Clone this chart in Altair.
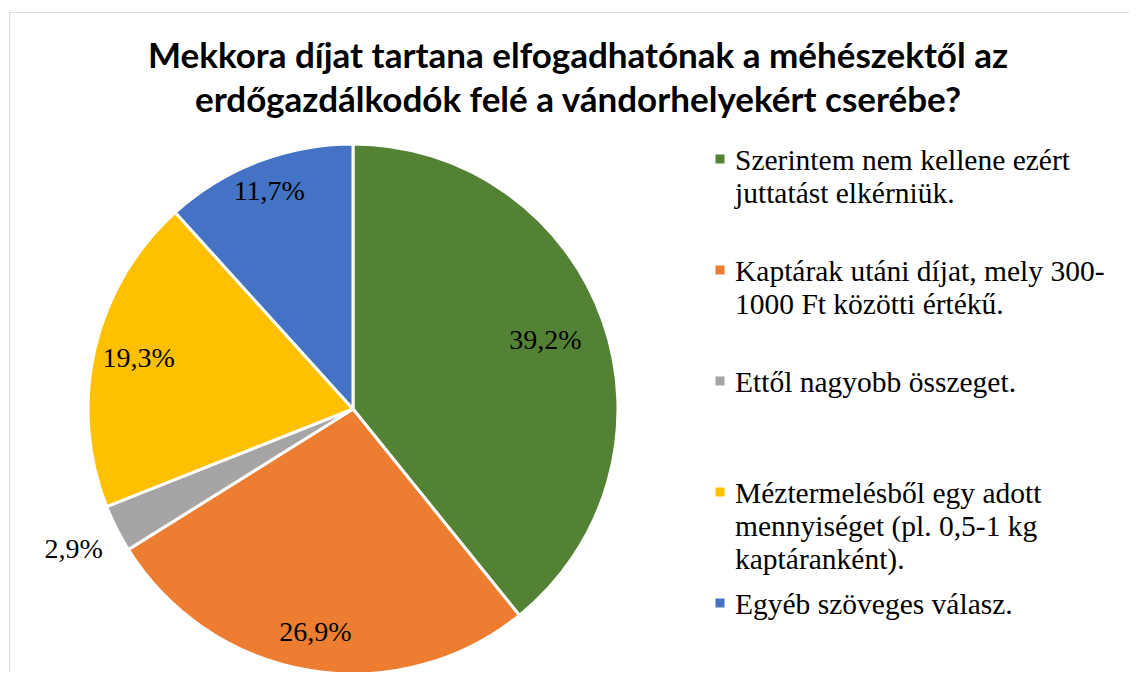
import altair as alt
import pandas as pd

title_lines = ["Mekkora díjat tartana elfogadhatónak a méhészektől az",
               "erdőgazdálkodók felé a vándorhelyekért cserébe?"]

categories = [
    "Szerintem nem kellene ezért\njuttatást elkérniük.",
    "Kaptárak utáni díjat, mely 300-\n1000 Ft közötti értékű.",
    "Ettől nagyobb összeget.",
    "Méztermelésből egy adott\nmennyiséget (pl. 0,5-1 kg\nkaptáranként).",
    "Egyéb szöveges válasz.",
]
values = [39.2, 26.9, 2.9, 19.3, 11.7]
labels = ["39,2%", "26,9%", "2,9%", "19,3%", "11,7%"]
colors = ["#548235", "#ED7D31", "#A5A5A5", "#FFC000", "#4472C4"]

df = pd.DataFrame({
    "idx": list(range(len(categories))),
    "cat": categories,
    "value": values,
    "label": labels,
})

cx, cy, R = 345, 401, 265
color = alt.Color("cat:N", scale=alt.Scale(domain=categories, range=colors), legend=None)
theta_scale = alt.Scale(domain=[0, 100])

base = alt.Chart(df)

pie = base.mark_arc(outerRadius=R, stroke="white", strokeWidth=3).encode(
    theta=alt.Theta("value:Q", stack=True, scale=theta_scale),
    color=color,
    order=alt.Order("idx:Q"),
    x=alt.value(cx), y=alt.value(cy),
)

# label at the middle of each slice; Excel "best fit" radius: small slice outside
pie_labels = base.transform_window(
    cum="sum(value)", sort=[alt.SortField("idx", order="ascending")]
).transform_calculate(
    mid="datum.cum - datum.value / 2",
    r="datum.value < 5 ? 313 : datum.value < 15 ? 233 : datum.value < 22 ? 220 : datum.value < 30 ? 227 : 204",
).mark_text(font="Liberation Serif", fontSize=28, color="black",
            align="center", baseline="middle").encode(
    theta=alt.Theta("mid:Q", stack=None, scale=theta_scale),
    radius=alt.Radius("r:Q", scale=None),
    text="label:N",
    x=alt.value(cx), y=alt.value(cy),
)

ly = alt.Y("idx:Q", scale=alt.Scale(domain=[0, 4], range=[151, 595]), axis=None)

leg_sq = base.mark_square(size=81, opacity=1).encode(
    x=alt.value(712), y=ly, color=color,
)
leg_txt = base.mark_text(font="Liberation Serif", fontSize=29.5, color="black",
                         align="left", baseline="alphabetic", dy=11,
                         lineBreak="\n", lineHeight=33).encode(
    x=alt.value(727), y=ly, text="cat:N",
)

title_df = pd.DataFrame({"t": ["\n".join(title_lines)]})
title = alt.Chart(title_df).mark_text(font="Lato", fontWeight="bold", fontSize=35,
                                      color="black", align="center", baseline="alphabetic",
                                      lineBreak="\n", lineHeight=44).encode(
    x=alt.value(570), y=alt.value(60), text="t:N",
)

border = alt.Chart(title_df).mark_rect(fillOpacity=0, stroke="#D9D9D9", strokeWidth=1).encode(
    x=alt.value(1.5), x2=alt.value(1400), y=alt.value(4.5), y2=alt.value(1000),
)

chart = alt.layer(border, pie, pie_labels, leg_sq, leg_txt, title).properties(
    width=1121, height=664, padding=0, autosize="none",
).configure_view(strokeWidth=0)

chart.save("out.html", embed_options={"renderer": "svg", "actions": False})
